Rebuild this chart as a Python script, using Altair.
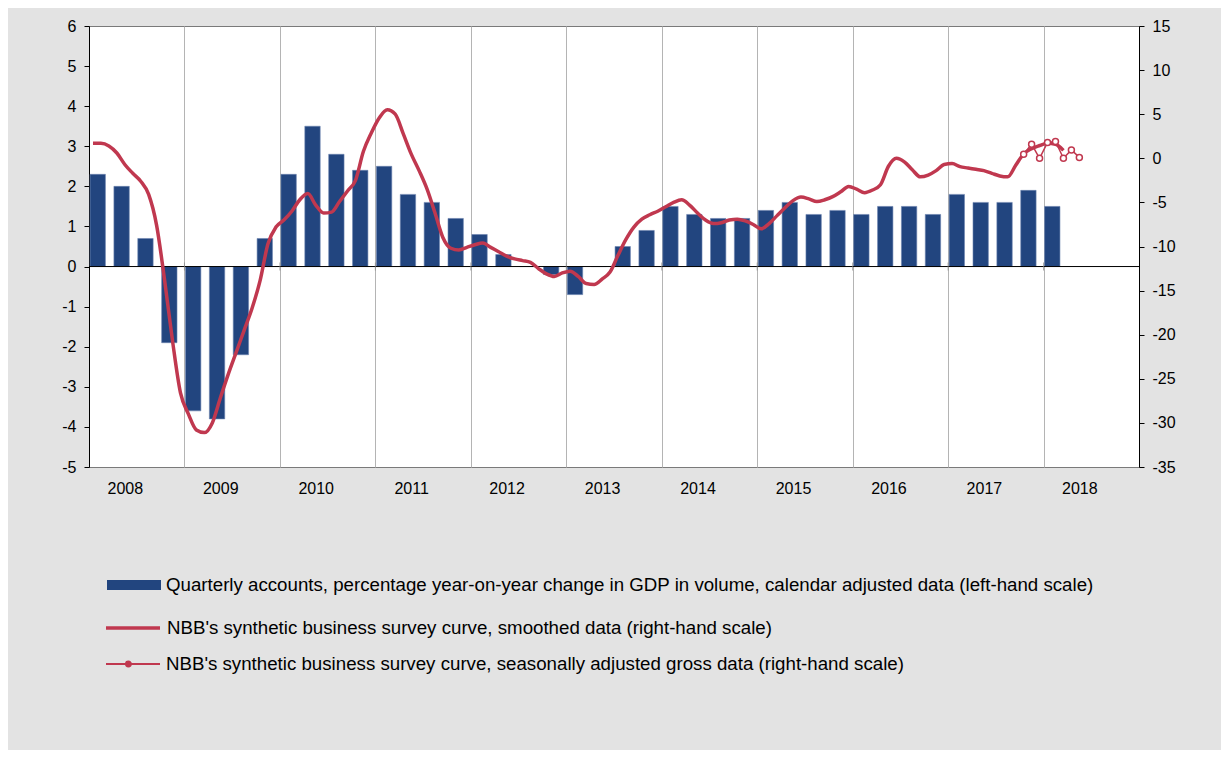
import altair as alt
import pandas as pd

BAR_NAME = "Quarterly accounts, percentage year-on-year change in GDP in volume, calendar adjusted data (left-hand scale)"
SMOOTH_NAME = "NBB's synthetic business survey curve, smoothed data (right-hand scale)"
GROSS_NAME = "NBB's synthetic business survey curve, seasonally adjusted gross data (right-hand scale)"

# quarterly GDP growth, 2008Q1 .. 2018Q1 (left-hand scale)
bar_values = [
    2.3, 2.0, 0.7, -1.9,
    -3.6, -3.8, -2.2, 0.7,
    2.3, 3.5, 2.8, 2.4,
    2.5, 1.8, 1.6, 1.2,
    0.8, 0.3, 0.0, -0.2,
    -0.7, 0.0, 0.5, 0.9,
    1.5, 1.3, 1.2, 1.2,
    1.4, 1.6, 1.3, 1.4,
    1.3, 1.5, 1.5, 1.3,
    1.8, 1.6, 1.6, 1.9,
    1.5,
]

# smoothed business survey curve, monthly Jan 2008 .. Mar 2018 (right-hand scale)
smooth_values = [
    1.7, 1.7, 1.4, 0.6, -0.7, -1.7, -2.6, -4.1, -7.6, -13.8, -20.7, -26.6,
    -29.0, -30.8, -31.1, -30.0, -27.2, -24.5, -22.0, -19.5, -17.0, -13.9, -9.7, -7.8,
    -7.0, -6.0, -4.7, -4.0, -5.3, -6.2, -6.1, -4.9, -3.7, -2.5, 0.8, 2.9,
    4.6, 5.5, 5.0, 2.8, 0.5, -1.4, -3.5, -6.2, -9.0, -10.2, -10.4, -10.1,
    -9.8, -9.6, -10.1, -10.6, -11.1, -11.4, -11.6, -11.8, -12.5, -13.1, -13.4, -13.0,
    -12.8, -13.4, -14.2, -14.3, -13.7, -12.9, -11.0, -9.2, -7.8, -6.9, -6.4, -6.0,
    -5.5, -5.0, -4.7, -5.3, -6.2, -7.0, -7.4, -7.3, -7.0, -6.9, -7.1, -7.5,
    -8.0, -7.4, -6.5, -5.6, -4.8, -4.4, -4.6, -4.9, -4.7, -4.35, -3.8, -3.2,
    -3.5, -3.9, -3.6, -3.0, -0.9, 0.0, -0.4, -1.3, -2.1, -1.9, -1.4, -0.7,
    -0.6, -0.95, -1.1, -1.25, -1.4, -1.7, -2.0, -2.1, -0.8, 0.5, 1.1, 1.45,
    1.7, 1.6, 0.9,
]

# seasonally adjusted gross data, monthly Oct 2017 .. May 2018 (right-hand scale)
gross_values = [0.45, 1.6, 0.0, 1.8, 1.9, 0.0, 0.95, 0.1]

year_labels = list(range(2008, 2019))
left_ticks = list(range(-5, 7))
right_ticks = list(range(-35, 16, 5))

BLUE = "#22457f"
RED = "#c0384f"
FONT = "Liberation Sans"

quarters = pd.period_range("2008Q1", periods=len(bar_values), freq="Q")
bars_df = pd.DataFrame({
    "start": [p.year + (p.quarter - 1) / 4 for p in quarters],
    "value": bar_values,
    "base": 0.0,
    "series": BAR_NAME,
})
bars_df["x0"] = bars_df["start"] + 0.011
bars_df["x1"] = bars_df["start"] + 0.172

months = pd.period_range("2008-01", periods=len(smooth_values), freq="M")
smooth_df = pd.DataFrame({
    "t": [p.year + (p.month - 0.5) / 12 for p in months],
    "value": smooth_values,
    "series": SMOOTH_NAME,
})
gmonths = pd.period_range("2017-10", periods=len(gross_values), freq="M")
gross_df = pd.DataFrame({
    "t": [p.year + (p.month - 0.5) / 12 for p in gmonths],
    "value": gross_values,
    "series": GROSS_NAME,
})
zero_df = pd.DataFrame({"z": [0]})
tick_df = pd.DataFrame({"year": year_labels[1:], "z": 0})

xscale = alt.Scale(domain=[2008, 2019], nice=False, zero=False)
label_axis = alt.Axis(values=[y + 0.375 for y in year_labels], labelExpr="'' + floor(datum.value)",
                      ticks=False, domain=False, grid=False, labelPadding=13, title=None,
                      labelFlush=False, orient="bottom")
grid_axis = alt.Axis(orient="top", values=list(range(2009, 2019)), grid=True, gridColor="#b4b4b4",
                     gridWidth=1, labels=False, ticks=False, domain=False, title=None)

left_scale = alt.Scale(domain=[-5, 6], nice=False, zero=False)
left_axis = alt.Axis(values=left_ticks, grid=False, domainColor="black", tickColor="black",
                     tickSize=5, labelPadding=8, title=None, orient="left",
                     labelExpr="'' + datum.value", labelFlush=False)
right_scale = alt.Scale(domain=[-35, 15], nice=False, zero=False)
right_axis = alt.Axis(values=right_ticks, grid=False, domainColor="black", tickColor="black",
                      tickSize=5, labelPadding=8, title=None, orient="right",
                      labelExpr="'' + datum.value", labelFlush=False)


def legend(x, y, symbol, stroke_width):
    return alt.Legend(orient="none", legendX=x, legendY=y, title=None, symbolType=symbol,
                      symbolSize=2916, symbolStrokeWidth=stroke_width, labelLimit=1200,
                      labelFontSize=18.7, labelFont=FONT, labelColor="black", padding=0,
                      labelOffset=5)


bars = alt.Chart(bars_df).mark_bar(stroke="#6d84b0", strokeWidth=0.6).encode(
    x=alt.X("x0:Q", scale=xscale, axis=label_axis),
    x2="x1:Q",
    y=alt.Y("value:Q", scale=left_scale, axis=left_axis),
    y2="base:Q",
    color=alt.Color("series:N", scale=alt.Scale(range=[BLUE]),
                    legend=legend(18, 532, "M-1,-0.185L1,-0.185L1,0.185L-1,0.185Z", 0)),
)
zero_rule = alt.Chart(zero_df).mark_rule(color="black", strokeWidth=1).encode(
    y=alt.Y("z:Q", scale=left_scale, axis=left_axis),
)
year_ticks = alt.Chart(tick_df).mark_tick(color="#888888", thickness=1, size=8, orient="vertical").encode(
    x=alt.X("year:Q", scale=xscale, axis=label_axis),
    y=alt.Y("z:Q", scale=left_scale, axis=left_axis),
)
left = alt.layer(bars, zero_rule, year_ticks)

smooth = alt.Chart(smooth_df).mark_line(interpolate="monotone", strokeWidth=3.5).encode(
    x=alt.X("t:Q", scale=xscale, axis=grid_axis),
    y=alt.Y("value:Q", scale=right_scale, axis=right_axis),
    color=alt.Color("series:N", scale=alt.Scale(range=[RED]),
                    legend=legend(15, 573, "M-1,0L1,0", 3.5)),
)
dot = "".join(
    f"M-{0.17 + r:.3f},0A{r},{r},0,1,1,-{0.17 - r:.3f},0A{r},{r},0,1,1,-{0.17 + r:.3f},0"
    for r in (0.09, 0.06, 0.03)
)
gross = alt.Chart(gross_df).mark_line(
    strokeWidth=1.5,
    point=alt.OverlayMarkDef(filled=False, fill="white", size=36, strokeWidth=1.5),
).encode(
    x=alt.X("t:Q", scale=xscale, axis=grid_axis),
    y=alt.Y("value:Q", scale=right_scale, axis=right_axis),
    color=alt.Color("series:N", scale=alt.Scale(range=[RED]),
                    legend=legend(16, 610, "M-1,0L1,0" + dot, 2)),
)
right = alt.layer(smooth, gross).resolve_scale(color="independent")

chart = alt.layer(left, right).resolve_scale(
    y="independent", color="independent"
).resolve_axis(
    x="independent", y="independent"
).properties(
    width=1050, height=441,
    autosize=alt.AutoSizeParams(type="none"),
    padding={"left": 81, "top": 18, "right": 82, "bottom": 283},
    background="#e3e3e3",
).configure_view(
    stroke="#7a7a7a", fill="white"
).configure_axis(
    labelFont=FONT, labelFontSize=16, labelColor="black"
)

chart.save("out.html", embed_options={"renderer": "svg", "actions": False})
